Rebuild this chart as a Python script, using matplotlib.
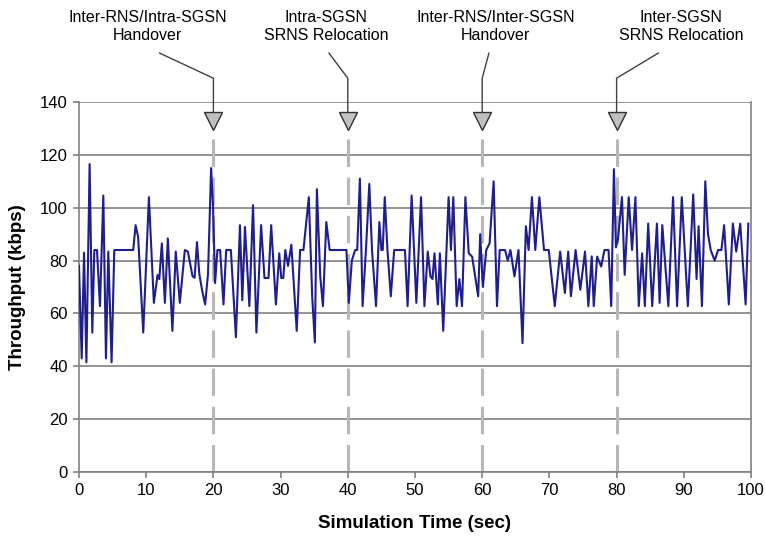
import matplotlib
matplotlib.use("Agg")
import matplotlib.pyplot as plt

plt.rcParams['font.family'] = ['Liberation Sans', 'DejaVu Sans']

# ---- data ----
time_s = [0.0, 0.4, 0.75, 1.1, 1.58, 1.98, 2.28, 2.68, 3.12, 3.62, 4.01, 4.36, 4.85, 5.25,
          8.07, 8.42, 8.8, 9.56, 10.4, 11.14, 11.69, 11.95, 12.33, 12.78, 13.22, 13.9, 14.4,
          15.0, 15.75, 16.2, 16.9, 17.2, 17.56, 17.9, 18.3, 18.77, 19.2, 19.66, 19.95, 20.25,
          20.6, 21.0, 21.5, 21.9, 22.6, 23.35, 23.95, 24.3, 24.7, 25.35, 25.9, 26.4, 27.1,
          27.6, 28.2, 28.6, 29.3, 29.8, 30.1, 30.4, 30.7, 31.1, 31.6, 32.4, 32.9, 33.4, 34.2,
          34.7, 35.1, 35.4, 35.9, 36.3, 36.8, 37.3, 39.8, 40.15, 40.6, 41.1, 41.4, 41.8, 42.2,
          42.7, 43.2, 43.6, 44.2, 44.7, 45.0, 45.2, 45.5, 45.9, 46.4, 46.9, 48.5, 48.9, 49.5,
          50.2, 50.9, 51.4, 51.9, 52.3, 52.6, 52.9, 53.4, 53.7, 54.2, 55.0, 55.35, 55.7, 56.2,
          56.6, 57.0, 57.5, 58.0, 58.5, 59.4, 59.7, 60.1, 60.6, 61.1, 61.7, 62.2, 62.6, 63.4,
          63.8, 64.2, 64.8, 65.4, 66.0, 66.5, 66.9, 67.4, 67.9, 68.5, 69.2, 69.9, 70.8, 71.6,
          72.3, 72.8, 73.2, 73.9, 74.6, 75.3, 75.8, 76.3, 76.6, 77.1, 77.7, 78.2, 78.8, 79.2,
          79.6, 79.9, 80.2, 80.8, 81.2, 81.8, 82.3, 82.8, 83.3, 83.8, 84.2, 84.7, 85.3, 86.0,
          86.4, 86.8, 87.7, 88.4, 89.0, 89.7, 90.6, 91.4, 91.9, 92.2, 92.7, 93.2, 93.6, 94.0,
          94.6, 95.1, 95.6, 96.0, 96.7, 97.3, 97.8, 98.4, 99.2, 99.6]
throughput_kbps = [78, 43, 83, 41.5, 116.5, 52.75, 84, 84, 62.75, 104.6, 43, 83.4, 41.5, 84,
                   84, 93.4, 89, 52.75, 104, 64, 74.6, 73, 86.5, 64, 88.4, 53.4, 83.4,
                   64, 84, 83.4, 74, 73.5, 87, 75, 69, 63.4, 75, 115, 100, 71.5,
                   84, 84, 63.4, 84, 84, 51, 93.4, 65, 92.75, 62.75, 101, 52.75, 93.4,
                   73.4, 73.4, 93.4, 63.4, 82.75, 73.4, 73.4, 84, 78, 86, 53.4, 84, 84, 104,
                   66.5, 49, 107, 74, 62.75, 94.6, 84, 84, 64, 80, 84, 84, 111, 62.75,
                   84, 109, 84, 62.75, 94.6, 84, 84, 104, 84, 66.5, 84, 84, 62.75, 104.6,
                   64, 104, 62.75, 83.4, 74, 73, 82.75, 63.4, 82.75, 53.4, 104, 84, 104, 62.75,
                   73, 62.75, 104, 82.75, 81.5, 66.5, 90, 70, 84, 86.5, 110, 62.75, 84, 84,
                   80, 84, 74, 84, 48.75, 93, 84, 104, 84, 104, 84, 84, 62.75, 83.4,
                   67.75, 83.4, 66.5, 84, 69, 83.4, 62.75, 81.6, 62.75, 81.5, 77.75, 84, 84, 62.75,
                   114.6, 85, 88, 104, 74.6, 104, 84, 104, 62.75, 82.75, 62.75, 94, 62.75, 94,
                   64, 93.4, 62.75, 104, 62.75, 104, 62.75, 105, 73, 93, 62.75, 110, 90, 84,
                   80, 84, 84, 93.4, 63.4, 94, 83.4, 94, 63.4, 94]

event_times = [20, 40, 60, 80]
event_labels = ["Inter-RNS/Intra-SGSN\nHandover", "Intra-SGSN\nSRNS Relocation",
                "Inter-RNS/Inter-SGSN\nHandover", "Inter-SGSN\nSRNS Relocation"]
label_x = [10.2, 36.8, 62.0, 89.6]
leader_top_x = [12.0, 37.2, 61.0, 86.2]

y_ticks = [0, 20, 40, 60, 80, 100, 120, 140]
x_ticks = [0, 10, 20, 30, 40, 50, 60, 70, 80, 90, 100]

fig = plt.figure(figsize=(7.65, 5.43), dpi=100)
ax = fig.add_axes([79/765, 1 - 472/543, (751 - 79)/765, (472 - 102)/543])

ax.set_xlim(0, 100)
ax.set_ylim(0, 140)
ax.set_yticks(y_ticks)
ax.set_xticks(x_ticks)
ax.grid(axis='y', color='#808080', linewidth=1.2, zorder=0)
ax.set_axisbelow(True)
for s in ['left', 'right', 'bottom']:
    ax.spines[s].set_color('#808080')
    ax.spines[s].set_linewidth(1.2)
ax.spines['top'].set_visible(False)
ax.tick_params(axis='both', direction='out', length=4, color='#808080', width=1.2,
               labelsize=12, pad=4)

# event markers
for t in event_times:
    ax.plot([t, t], [0, 131], color='#b8b8b8', linewidth=2.2, dashes=(9, 3.5),
            zorder=1, clip_on=False)

ax.plot(time_s, throughput_kbps, color='#1e1e8c', linewidth=1.5, zorder=3,
        solid_joinstyle='round')

for t, lx, ltx, lab in zip(event_times, label_x, leader_top_x, event_labels):
    ax.plot([t, t, ltx], [134, 149, 158.5], color='#404040', linewidth=1.0,
            clip_on=False, zorder=4)
    ax.plot([t], [133], marker='v', markersize=13, markerfacecolor='#c0c0c0',
            markeredgecolor='#303030', markeredgewidth=1.0, clip_on=False, zorder=5)
    ax.text(lx, 168.5, lab, ha='center', va='center', fontsize=11.5,
            linespacing=1.25, clip_on=False)

ax.set_ylabel("Throughput (kbps)", fontsize=13.5, fontweight='bold', labelpad=10)
ax.set_xlabel("Simulation Time (sec)", fontsize=13.5, fontweight='bold', labelpad=12)

fig.savefig("out.png", dpi=100)
